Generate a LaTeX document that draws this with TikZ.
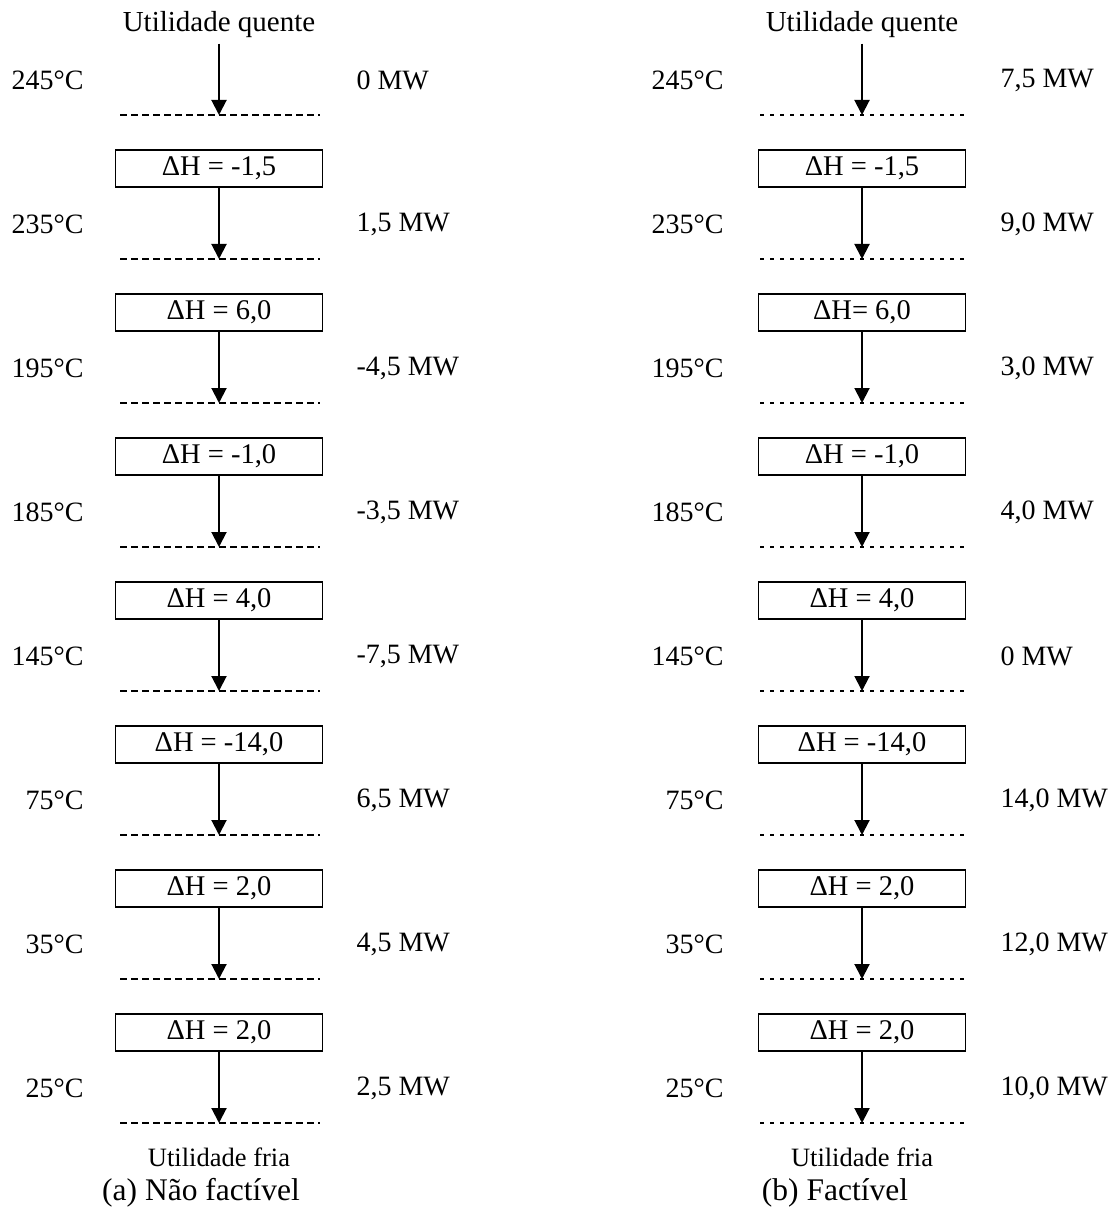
\documentclass[tikz,border=0pt]{standalone}
\usepackage{fontspec}
\setmainfont{Liberation Serif}
\usetikzlibrary{arrows.meta}

\begin{document}
\begin{tikzpicture}[x=.4pt,y=-.4pt,>={Triangle[length=6pt,width=6pt]},
 every node/.style={font=\fontsize{11.2}{13}\selectfont,inner sep=2pt},
 dh/.style={draw,line width=.55pt,minimum width=82.8pt,minimum height=14.8pt,
   inner sep=0pt,font=\fontsize{11.4}{13}\selectfont},
 util/.style={font=\fontsize{11.6}{14}\selectfont},
 fria/.style={font=\fontsize{10.6}{13}\selectfont},
 capt/.style={font=\fontsize{12.6}{15}\selectfont},
 flow/.style={->,line width=.8pt},
 cutA/.style={line width=.5pt,dash pattern=on 2.6pt off 1.8pt},
 cutB/.style={line width=.5pt,dash pattern=on 1.4pt off 2.6pt}]
 \useasboundingbox (0,0) rectangle (1116,1218);
 \node[util] (hqA) at (219,25) {Utilidade quente};
 \node[util] (hqB) at (862,25) {Utilidade quente};
 \foreach \i/\t/\q/\h in {1/245/0/{ΔH = -1,5},2/235/{1,5}/{ΔH = 6,0},
                          3/195/{-4,5}/{ΔH = -1,0},4/185/{-3,5}/{ΔH = 4,0},
                          5/145/{-7,5}/{ΔH = -14,0},6/75/{6,5}/{ΔH = 2,0},
                          7/35/{4,5}/{ΔH = 2,0},8/25/{2,5}/{}}{
   \node[anchor=east] (tA\i) at (89,{80+144*(\i-1)}) {\t°C};
   \node[anchor=west] (qA\i) at (351,{80+144*(\i-1)}) {\q\ MW};
   \coordinate (lA\i) at (219,{115+144*(\i-1)});
   \draw[cutA] (120,{115+144*(\i-1)}) -- (320,{115+144*(\i-1)});
   \ifnum\i<8
     \node[dh] (bA\i) at (219,{168.5+144*(\i-1)}) {\h};
   \fi
 }
 \foreach \i/\t/\q/\h in {1/245/{7,5}/{ΔH = -1,5},2/235/{9,0}/{ΔH= 6,0},
                          3/195/{3,0}/{ΔH = -1,0},4/185/{4,0}/{ΔH = 4,0},
                          5/145/0/{ΔH = -14,0},6/75/{14,0}/{ΔH = 2,0},
                          7/35/{12,0}/{ΔH = 2,0},8/25/{10,0}/{}}{
   \node[anchor=east] (tB\i) at (729,{80+144*(\i-1)}) {\t°C};
   \node[anchor=west] (qB\i) at (995,{80+144*(\i-1)}) {\q\ MW};
   \coordinate (lB\i) at (862,{115+144*(\i-1)});
   \draw[cutB] (760,{115+144*(\i-1)}) -- (965,{115+144*(\i-1)});
   \ifnum\i<8
     \node[dh] (bB\i) at (862,{168.5+144*(\i-1)}) {\h};
   \fi
 }
 \draw[flow] (hqA) -- (lA1);
 \draw[flow] (hqB) -- (lB1);
 \foreach \i [count=\j from 2] in {1,...,7}{
   \draw[flow] (bA\i) -- (lA\j);
   \draw[flow] (bB\i) -- (lB\j);
 }
 \node[fria] (cfA) at (219,1157) {Utilidade fria};
 \node[fria] (cfB) at (862,1157) {Utilidade fria};
 \node[capt] (capA) at (201,1193) {(a) Não factível};
 \node[capt] (capB) at (835,1193) {(b) Factível};
\end{tikzpicture}
\end{document}
